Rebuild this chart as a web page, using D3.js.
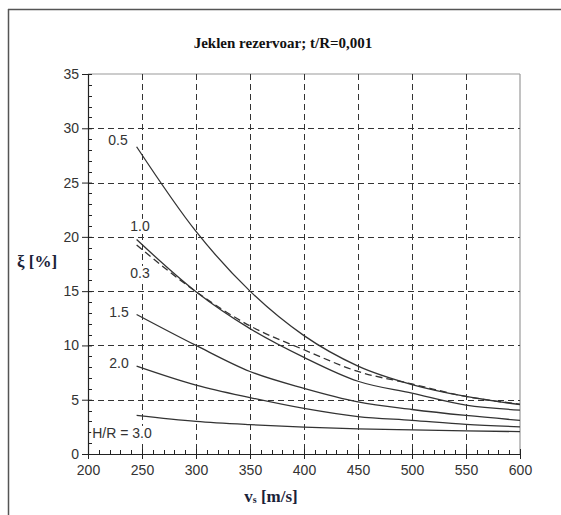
<!DOCTYPE html>
<html>
<head>
<meta charset="utf-8">
<script src="https://cdn.jsdelivr.net/npm/d3@7"></script>
<style>
  html, body { margin: 0; padding: 0; background: #fff; }
  svg { display: block; }
</style>
</head>
<body>
<svg id="chart" width="561" height="515"></svg>
<script>
// Shear-wave velocity v_s [m/s] at which each curve is sampled
const vs = [245, 300, 350, 400, 450, 500, 550, 600];

// Damping ξ [%] for each height-to-radius ratio H/R
const hr05 = [28.3, 20.5, 15.0, 10.9, 8.1, 6.4, 5.3, 4.55];
const hr10 = [19.75, 14.95, 11.55, 8.9, 6.7, 5.6, 4.5, 4.05];
const hr03 = [19.25, 14.95, 11.8, 9.6, 7.6, 6.45, 5.3, 4.6];
const hr15 = [12.85, 10.0, 7.6, 6.05, 4.8, 4.1, 3.55, 3.1];
const hr20 = [8.1, 6.35, 5.2, 4.2, 3.45, 3.1, 2.73, 2.5];
const hr30 = [3.55, 3.0, 2.7, 2.48, 2.32, 2.22, 2.13, 2.06];

// Curve names as printed next to each curve
const curveLabels = ["0.5", "1.0", "0.3", "1.5", "2.0", "H/R = 3.0"];

// Axis ticks
const xTicks = [200, 250, 300, 350, 400, 450, 500, 550, 600];
const yTicks = [0, 5, 10, 15, 20, 25, 30, 35];

const titleText = "Jeklen rezervoar; t/R=0,001";

const series = [
  { name: curveLabels[0], values: hr05, dashed: false, lx: 118, ly: 140 },
  { name: curveLabels[1], values: hr10, dashed: false, lx: 140, ly: 226 },
  { name: curveLabels[2], values: hr03, dashed: true,  lx: 140, ly: 273 },
  { name: curveLabels[3], values: hr15, dashed: false, lx: 119, ly: 312 },
  { name: curveLabels[4], values: hr20, dashed: false, lx: 119, ly: 363 },
  { name: curveLabels[5], values: hr30, dashed: false, lx: 122, ly: 433 }
];

const svg = d3.select("#chart");
const m = { left: 88, right: 520, top: 74, bottom: 454 };

const x = d3.scaleLinear().domain([200, 600]).range([m.left, m.right]);
const y = d3.scaleLinear().domain([0, 35]).range([m.bottom, m.top]);

// Page frame (top and left edges)
svg.append("line").attr("x1", 8).attr("x2", 561).attr("y1", 9.5).attr("y2", 9.5)
  .attr("stroke", "#555").attr("stroke-width", 1.5);
svg.append("line").attr("x1", 8.5).attr("x2", 8.5).attr("y1", 9).attr("y2", 515)
  .attr("stroke", "#555").attr("stroke-width", 1.5);

// Title
svg.append("text")
  .attr("x", 283).attr("y", 48)
  .attr("text-anchor", "middle")
  .style("font-family", "'Liberation Serif', 'Times New Roman', serif")
  .style("font-weight", "bold")
  .style("font-size", "15px")
  .attr("fill", "#111")
  .text(titleText);

// Plot border: top and right edges in light gray
svg.append("line").attr("x1", m.left).attr("x2", m.right).attr("y1", y(35)).attr("y2", y(35))
  .attr("stroke", "#999").attr("stroke-width", 1.2);
svg.append("line").attr("x1", x(600)).attr("x2", x(600)).attr("y1", m.top).attr("y2", m.bottom)
  .attr("stroke", "#999").attr("stroke-width", 1.2);

// Dashed grid
const grid = svg.append("g").attr("stroke", "#333").attr("stroke-width", 1).attr("stroke-dasharray", "6,4");
grid.selectAll("line.h").data(yTicks.filter(d => d > 0 && d < 35)).join("line")
  .attr("x1", m.left).attr("x2", m.right)
  .attr("y1", d => Math.round(y(d)) + 0.5).attr("y2", d => Math.round(y(d)) + 0.5);
grid.selectAll("line.v").data(xTicks.filter(d => d > 200 && d < 600)).join("line")
  .attr("x1", d => Math.round(x(d)) + 0.5).attr("x2", d => Math.round(x(d)) + 0.5)
  .attr("y1", m.top).attr("y2", m.bottom);

// Minor ticks (inside the plot)
const minorY = d3.range(0, 35.01, 1).filter(d => d % 5 !== 0);
svg.append("g").selectAll("line").data(minorY).join("line")
  .attr("x1", m.left).attr("x2", m.left + 4)
  .attr("y1", d => Math.round(y(d)) + 0.5).attr("y2", d => Math.round(y(d)) + 0.5)
  .attr("stroke", "#222").attr("stroke-width", 1);
const minorX = d3.range(200, 600.01, 10).filter(d => d % 50 !== 0);
svg.append("g").selectAll("line").data(minorX).join("line")
  .attr("x1", d => Math.round(x(d)) + 0.5).attr("x2", d => Math.round(x(d)) + 0.5)
  .attr("y1", m.bottom).attr("y2", m.bottom - 4)
  .attr("stroke", "#222").attr("stroke-width", 1);

// Axes with major ticks crossing the axis line
const tickFont = "'Liberation Sans', Arial, sans-serif";
const yAxis = svg.append("g").attr("transform", `translate(${m.left},0)`)
  .call(d3.axisLeft(y).tickValues(yTicks).tickFormat(d3.format("d")).tickSizeInner(6).tickSizeOuter(0).tickPadding(3));
yAxis.selectAll(".tick line").attr("x2", -6).attr("x1", 4).attr("stroke", "#222");
yAxis.select(".domain").attr("stroke", "#222").attr("stroke-width", 1.2);
yAxis.selectAll("text").style("font-family", tickFont).style("font-size", "14px").attr("fill", "#333");

const xAxis = svg.append("g").attr("transform", `translate(0,${m.bottom})`)
  .call(d3.axisBottom(x).tickValues(xTicks).tickFormat(d3.format("d")).tickSizeInner(5).tickSizeOuter(0).tickPadding(6));
xAxis.selectAll(".tick line").attr("y1", -5).attr("y2", 5).attr("stroke", "#222");
xAxis.select(".domain").attr("stroke", "#222").attr("stroke-width", 1.2);
xAxis.selectAll("text").style("font-family", tickFont).style("font-size", "14px").attr("fill", "#333");

// Axis titles
svg.append("text")
  .attr("x", 37).attr("y", 267)
  .attr("text-anchor", "middle")
  .style("font-family", "'Liberation Serif', 'Times New Roman', serif")
  .style("font-weight", "bold")
  .style("font-size", "17px")
  .attr("fill", "#1a2238")
  .text("ξ [%]");

const xl = svg.append("text")
  .attr("x", 271).attr("y", 502)
  .attr("text-anchor", "middle")
  .style("font-family", "'Liberation Serif', 'Times New Roman', serif")
  .style("font-weight", "bold")
  .style("font-size", "17px")
  .attr("fill", "#1a2238");
xl.append("tspan").text("v");
xl.append("tspan").style("font-size", "10px").attr("dy", 1).text("s");
xl.append("tspan").attr("dy", -1).text(" [m/s]");

// Curves
const line = d3.line().x(d => x(d[0])).y(d => y(d[1])).curve(d3.curveMonotoneX);
const curves = svg.append("g");
series.forEach(s => {
  curves.append("path")
    .datum(vs.map((v, i) => [v, s.values[i]]))
    .attr("d", line)
    .attr("fill", "none")
    .attr("stroke", "#333")
    .attr("stroke-width", 1.3)
    .attr("stroke-dasharray", s.dashed ? "7,4" : null);
});

// Curve labels on a white patch that hides the grid behind them
const labels = svg.append("g").selectAll("g").data(series).join("g");
const labelText = labels.append("text")
  .attr("x", d => d.lx).attr("y", d => d.ly)
  .attr("dy", "0.35em")
  .attr("text-anchor", "middle")
  .style("font-family", tickFont)
  .style("font-size", "14px")
  .attr("fill", "#333")
  .text(d => d.name);
labelText.each(function() {
  const b = this.getBBox();
  d3.select(this.parentNode).insert("rect", "text")
    .attr("x", b.x - 1).attr("y", b.y + 1)
    .attr("width", b.width + 2).attr("height", b.height - 2)
    .attr("fill", "#fff");
});
</script>
</body>
</html>
